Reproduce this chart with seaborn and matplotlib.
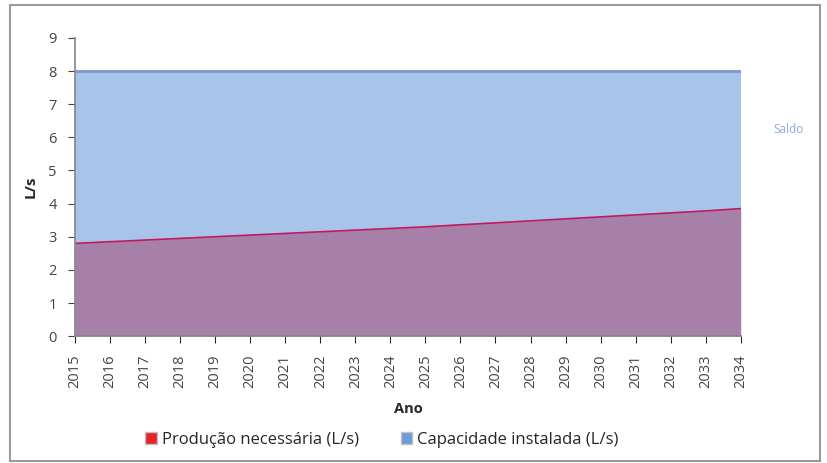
import pandas as pd
import numpy as np
import matplotlib.pyplot as plt
import seaborn as sns
from matplotlib.patches import Rectangle, Patch

# --- DATA ---
anos = list(range(2015, 2035))
producao = [2.80, 2.85, 2.90, 2.95, 3.00, 3.05, 3.10, 3.15, 3.20, 3.25,
            3.30, 3.36, 3.42, 3.48, 3.54, 3.60, 3.66, 3.72, 3.78, 3.85]
capacidade = [8.0] * 20
y_ticks = list(range(0, 10))

df = pd.DataFrame({'Ano': anos, 'Producao': producao, 'Capacidade': capacidade})

sns.set_theme(style='white')
plt.rcParams['font.family'] = ['Open Sans', 'DejaVu Sans']

fig = plt.figure(figsize=(8.27, 4.63), dpi=100)
ax = fig.add_axes([0.0907, 0.274, 0.805, 0.644])

blue = '#A9C4EA'
purple = '#A680A8'

# areas
ax.fill_between(df['Ano'], 0, df['Capacidade'], color=blue, lw=0)
sns.lineplot(data=df, x='Ano', y='Capacidade', ax=ax, color='#7E97C6', lw=2)
ax.fill_between(df['Ano'], 0, df['Producao'], color=purple, lw=0)
sns.lineplot(data=df, x='Ano', y='Producao', ax=ax, color='#C2185B', lw=1.2)

ax.set_xlim(2015, 2034)
ax.set_ylim(0, 9)
ax.set_yticks(y_ticks)
ax.set_xticks(anos)
ax.set_xticklabels([str(a) for a in anos], rotation=90, fontsize=10.5, color='#444444')
ax.tick_params(axis='y', labelsize=10.5, colors='#444444', length=5, left=True,
               width=0.8, pad=8)
ax.tick_params(axis='x', length=5, bottom=True, width=0.8, pad=8)
for s in ['top', 'right']:
    ax.spines[s].set_visible(False)
ax.spines['left'].set_color('#888888')
ax.spines['bottom'].set_color('#888888')

ax.set_xlabel('Ano', fontsize=10.5, fontweight='bold', labelpad=10)
ax.set_ylabel('L/s', fontsize=11, fontweight='bold', labelpad=8)

fig.text(0.935, 0.72, 'Saldo', fontsize=8.5, color='#8FA8DA', ha='left', va='center')

handles = [Patch(facecolor='#E8222A', edgecolor='#C0C0C0', label='Produção necessária (L/s)'),
           Patch(facecolor='#6E9BD6', edgecolor='#C0C0C0', label='Capacidade instalada (L/s)')]
fig.legend(handles=handles, loc='center', bbox_to_anchor=(0.462, 0.05), ncol=2,
           frameon=False, fontsize=12, handlelength=0.7, handleheight=0.7,
           handletextpad=0.3, columnspacing=2.5)

# outer frame
fig.patches.append(Rectangle((0.012, 0.004), 0.98, 0.985, transform=fig.transFigure,
                             fill=False, edgecolor='#9A9A9A', lw=1.5))

fig.savefig('out.png', dpi=100)
